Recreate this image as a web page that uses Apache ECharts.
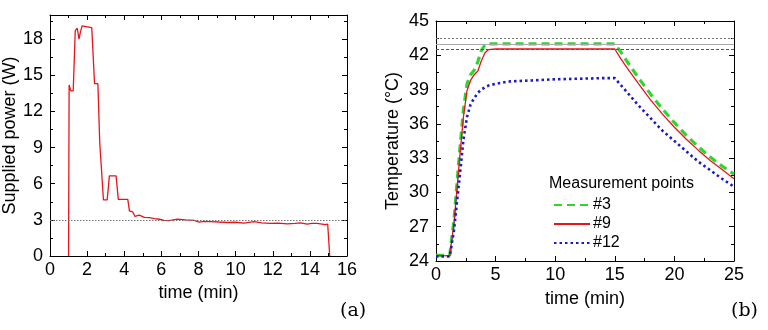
<!DOCTYPE html>
<html>
<head>
<meta charset="utf-8">
<script src="https://cdn.jsdelivr.net/npm/echarts@6/dist/echarts.min.js"></script>
<style>
  html, body { margin: 0; padding: 0; background: #fff; }
  #main { width: 768px; height: 330px; }
</style>
</head>
<body>
<div id="main"></div>
<script>
// (a) supplied power vs time
var powerTime = [1.0, 1.03, 1.12, 1.25, 1.36, 1.47, 1.56, 1.64, 1.73, 1.83, 2.25, 2.4, 2.58, 2.68, 2.74, 2.88, 3.08, 3.2, 3.56, 3.68,
  4.19, 4.28, 4.45, 4.58, 4.81, 5.08, 5.35, 5.62, 5.9, 6.15, 6.42, 6.87, 7.3, 7.76, 8.03, 8.3, 8.66, 9.1, 9.56, 10.0,
  10.45, 10.99, 11.4, 11.89, 12.3, 12.78, 13.2, 13.5, 13.85, 14.1, 14.39, 14.83, 14.96, 15.07];
var powerW = [0, 14.2, 13.7, 13.7, 18.7, 18.9, 18.0, 18.6, 19.1, 18.95, 18.95, 14.3, 14.3, 9.4, 9.4, 4.65, 4.65, 6.65, 6.65, 4.7,
  4.7, 3.75, 3.67, 3.28, 3.39, 3.2, 3.18, 3.11, 3.05, 2.95, 2.94, 3.06, 3.0, 2.95, 2.82, 2.88, 2.86, 2.82, 2.78, 2.8,
  2.72, 2.86, 2.75, 2.7, 2.72, 2.66, 2.7, 2.75, 2.64, 2.7, 2.7, 2.6, 2.65, 0];
var powerRef = 3;

// (b) temperature vs time
var tempTime = [0, 1.15, 1.5, 2.0, 2.3, 2.6, 2.9, 3.2, 3.5, 3.8, 4.1, 4.4, 5, 6, 8, 10, 12, 14, 15,
  15.5, 16, 17, 18, 19, 20, 21, 22, 23, 24, 25];
var temp3 = [24.5, 24.5, 27.5, 33.8, 37.2, 39.5, 40.3, 40.7, 41.4, 42.4, 42.9, 43.0, 43.0, 43.0, 43.0, 43.0, 43.0, 43.0, 43.0,
  42.3, 41.5, 40.0, 38.6, 37.3, 36.1, 35.0, 34.0, 33.1, 32.3, 31.6];
var temp9 = [24.5, 24.45, 27.2, 33.2, 36.6, 38.9, 39.8, 40.3, 40.6, 41.5, 42.2, 42.5, 42.55, 42.55, 42.55, 42.55, 42.55, 42.55, 42.55,
  41.7, 40.95, 39.5, 38.1, 36.85, 35.7, 34.65, 33.7, 32.8, 32.0, 31.2];
var temp12 = [24.4, 24.4, 26.6, 31.5, 34.6, 36.6, 37.7, 38.25, 38.7, 39.0, 39.2, 39.35, 39.5, 39.7, 39.8, 39.9, 39.95, 40.0, 40.0,
  39.4, 38.8, 37.6, 36.5, 35.4, 34.5, 33.6, 32.7, 31.95, 31.2, 30.5];
var seriesNames = ['#3', '#9', '#12'];
var tempLimits = [43.5, 43, 42.5];

function zip(xs, ys) {
  var out = [];
  for (var i = 0; i < xs.length; i++) out.push([xs[i], ys[i]]);
  return out;
}

var font = 'Liberation Sans, Arial, sans-serif';

function boxAxis(gridIndex, min, max, interval, pos, isY, showLabel, name, nameGap, extra) {
  var ax = {
    type: 'value', gridIndex: gridIndex, min: min, max: max, interval: interval,
    position: pos,
    axisLine: { show: true, onZero: false, lineStyle: { color: '#000', width: 1 } },
    axisTick: { show: true, inside: true, length: 5, lineStyle: { color: '#000' } },
    minorTick: { show: true, splitNumber: 2, length: 3, lineStyle: { color: '#000' } },
    splitLine: { show: false },
    axisLabel: { show: showLabel, color: '#000', fontSize: 18, fontFamily: font, margin: isY ? 7 : 5 },
    name: name || '',
    nameLocation: 'middle',
    nameGap: nameGap || 0,
    nameTextStyle: { color: '#000', fontSize: 18, fontFamily: font }
  };
  if (extra) for (var k in extra) ax.axisLabel[k] = extra[k];
  return ax;
}

var myChart = echarts.init(document.getElementById('main'));

var option = {
  animation: false,
  backgroundColor: '#fff',
  grid: [
    { left: 49, right: 421, top: 15, bottom: 74 },
    { left: 436, right: 34, top: 21, bottom: 69 }
  ],
  xAxis: [
    boxAxis(0, 0, 16, 2, 'bottom', false, true, 'time (min)', 28),
    boxAxis(0, 0, 16, 2, 'top', false, false),
    boxAxis(1, 0, 25, 5, 'bottom', false, true, 'time (min)', 29),
    boxAxis(1, 0, 25, 5, 'top', false, false)
  ],
  yAxis: [
    boxAxis(0, 0, 20, 3, 'left', true, true, 'Supplied power (W)', 31, { showMaxLabel: false }),
    boxAxis(0, 0, 20, 3, 'right', true, false),
    boxAxis(1, 24, 45, 3, 'left', true, true, 'Temperature (°C)', 34),
    boxAxis(1, 24, 45, 3, 'right', true, false)
  ],
  legend: {
    orient: 'vertical',
    left: 548, top: 192,
    itemWidth: 36, itemHeight: 14, itemGap: 3,
    data: seriesNames,
    itemStyle: { opacity: 0 },
    textStyle: { color: '#000', fontSize: 16, fontFamily: font, padding: [0, 0, 0, -2] }
  },
  graphic: [
    { type: 'text', left: 549, top: 176, style: { text: 'Measurement points', fill: '#000', font: '16px ' + font } },
    { type: 'text', left: 340, top: 302, style: { text: '(a)', fill: '#000', font: '19px DejaVu Serif, serif' } },
    { type: 'text', left: 731, top: 302, style: { text: '(b)', fill: '#000', font: '19px DejaVu Serif, serif' } }
  ],
  series: [
    {
      type: 'line', xAxisIndex: 0, yAxisIndex: 0, symbol: 'none',
      data: zip(powerTime, powerW),
      lineStyle: { color: '#e8141c', width: 1.3 },
      markLine: {
        silent: true, symbol: 'none', label: { show: false },
        lineStyle: { color: '#777', type: [1.5, 1.5], width: 1 },
        data: [{ yAxis: powerRef }]
      }
    },
    {
      name: seriesNames[0], type: 'line', xAxisIndex: 2, yAxisIndex: 2, symbol: 'none',
      data: zip(tempTime, temp3),
      itemStyle: { color: '#2fd62f' },
      lineStyle: { color: '#2fd62f', width: 3.2, type: [8, 5] },
      markLine: {
        silent: true, symbol: 'none', label: { show: false },
        data: [
          { yAxis: tempLimits[0], lineStyle: { color: '#777', type: [2, 2], width: 1 } },
          { yAxis: tempLimits[1], lineStyle: { color: '#aaa', type: 'solid', width: 1 } },
          { yAxis: tempLimits[2], lineStyle: { color: '#555', type: [3, 2], width: 1 } }
        ]
      }
    },
    {
      name: seriesNames[1], type: 'line', xAxisIndex: 2, yAxisIndex: 2, symbol: 'none',
      data: zip(tempTime, temp9),
      itemStyle: { color: '#e8141c' },
      lineStyle: { color: '#e8141c', width: 1.3 }
    },
    {
      name: seriesNames[2], type: 'line', xAxisIndex: 2, yAxisIndex: 2, symbol: 'none',
      data: zip(tempTime, temp12),
      itemStyle: { color: '#1a1acc' },
      lineStyle: { color: '#1a1acc', width: 2.6, type: [2.5, 3] }
    }
  ]
};

myChart.setOption(option);
</script>
</body>
</html>
